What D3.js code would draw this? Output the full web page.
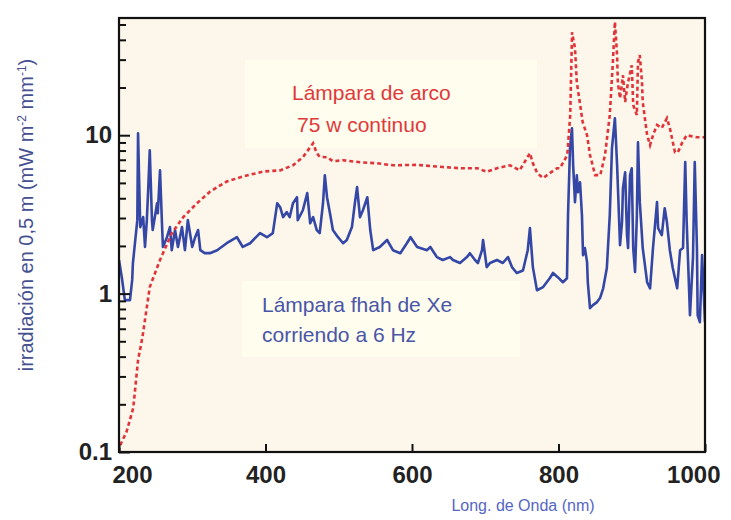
<!DOCTYPE html>
<html><head><meta charset="utf-8">
<script src="https://cdn.jsdelivr.net/npm/d3@7"></script>
<style>body{margin:0;background:#fff}svg{display:block}</style>
</head><body>
<svg id="c" width="731" height="520"></svg>
<script>
// ---- data ----
const arcWavelength = [200,201.5,210.5,219.5,226,232,242,256,272,288,306,324,347,370,397,420,437.5,451,465,470,474,484,492,506,529,552,574,607,642,665,689,702,716,734,747,761,765,771,779,788,798,802,812,816,818.5,822.5,825,829,833,839,843,850,857,863.5,870,874,877,880,881,884,886,888,891,893,895,900,902,907,908.5,911,914,915,921,925,929,934.5,941,948,952,959,963,969,975,989,996,1000];
const arcIrradiance = [0.1,0.11,0.135,0.19,0.38,0.53,1.1,1.63,2.4,3.05,3.7,4.4,5.1,5.5,5.9,6.0,6.46,7.26,8.9,7.7,7.3,7.26,6.85,6.95,6.75,6.65,6.46,6.5,6.3,6.19,6.19,5.87,6.19,6.46,6.0,7.7,6.65,5.76,5.36,5.76,6.19,6.19,7.5,13.4,44.7,35.4,21.6,16.2,12.1,10,7.5,5.6,5.6,7.5,13.4,27.6,52,32,21.6,17.1,20,23.9,16.2,19,21.6,27.6,15.5,13.4,28.9,32,21.6,16.2,10,8.65,10,11.6,11.1,12.8,11.1,7.8,7.8,9.0,10,9.7,9.7,9.7];

const xeWavelength = [200,204,208,215,218,219,225,226,229,233,235.5,238,240,242,245,246,252,253,256,259,260,265.5,269.6,272,276.5,280.5,286,290,294,300,304,308,311,317,324,334,347,361,369,379,392.5,402,410,416,420,424,429,433,437.5,443,444,451,457,461,465,470,474,478.5,481,484,488,492,499,506,511,518,522,525,529,533,539,543,547,556,566,574,584,593,598,607,620.5,625,634,642,652,656,665.5,675,679,686,690,695.6,697,702,706.5,716,724,731,736.5,743,751.5,758,761,765,770.6,779,788,792.5,799,806,811.6,813,815.7,818.4,820,822.5,825,826.6,829.4,832,833.5,836,839,840,843,847,852.6,856.7,861,866,870,873,877,880,884,886.7,888,891,893.5,895,897.6,900,902,904.5,907,908.5,911,915,921,925,929,934.5,936,941,945,948,952,956,962,966,970,973,975,979.5,983.6,986,989,990,993,996,1000];
const xeIrradiance = [1.63,1.25,0.91,0.91,1.22,1.56,2.91,10.3,2.63,3.04,1.97,2.91,4.7,8.04,2.91,2.52,3.72,3.22,6.01,2.52,1.97,2.27,2.63,1.88,2.52,1.97,2.63,1.88,2.91,1.97,2.27,2.52,1.88,1.8,1.8,1.88,2.08,2.27,1.97,2.08,2.41,2.27,2.41,3.72,3.51,3.04,3.27,3.04,3.72,4.06,2.91,3.36,4.31,2.78,3.04,2.52,2.41,3.72,5.59,4.06,3.22,2.52,2.27,2.08,2.18,2.63,3.72,4.7,3.04,3.36,4.06,2.52,1.88,1.97,2.18,1.88,1.8,2.08,2.27,1.97,1.88,1.97,1.7,1.63,1.7,1.63,1.56,1.7,1.8,1.63,1.56,1.88,2.18,1.47,1.56,1.63,1.56,1.7,1.47,1.35,1.4,1.88,2.59,1.47,1.05,1.1,1.25,1.35,1.27,1.18,1.25,3.13,8.28,11.07,6.47,3.78,5.59,4.37,5.05,3.13,1.75,1.94,1.58,1.18,0.81,0.846,0.884,0.937,1.08,1.45,3.13,8.28,12.8,6.47,2.02,2.83,4.63,5.84,2.34,1.94,5.59,6.19,1.94,1.37,3.13,9.03,3.78,1.94,1.18,1.08,1.94,3.78,2.59,2.34,3.46,2.83,1.88,1.45,1.08,1.88,1.94,6.76,2.83,0.73,1.7,6.76,1.94,0.73,0.66,1.75,0.66];

const xTicks = [200,400,600,800,1000];
const xTickLabels = ["200","400","600","800","1000"];
const yTicks = [0.1,1,10];
const yTickLabels = ["0.1","1","10"];
const yMinorTicks = [0.2,0.3,0.4,0.5,0.6,0.7,0.8,0.9,2,3,4,5,6,7,8,9,20,30,40,50];
const arcLabel = ["Lámpara de arco","75 w continuo"];
const xeLabel = ["Lámpara fhah de Xe","corriendo a 6 Hz"];
const xTitle = "Long. de Onda (nm)";

// ---- layout ----
const L=119, R=705, T=18, B=452;
const svg = d3.select("#c");
const x = d3.scaleLinear().domain([200,1000]).range([L,R]);
const y = d3.scaleLog().domain([0.1, Math.pow(10,1.74)]).range([B,T]);

svg.append("rect").attr("x",L).attr("y",T).attr("width",R-L).attr("height",B-T).attr("fill","#fcf7ea");

// legend boxes
svg.append("rect").attr("x",245).attr("y",60).attr("width",292).attr("height",88).attr("fill","#fffdee");
svg.append("rect").attr("x",242).attr("y",281).attr("width",278).attr("height",76).attr("fill","#fffdee");

svg.append("defs").append("clipPath").attr("id","pc").append("rect")
  .attr("x",L).attr("y",T).attr("width",R-L).attr("height",B-T);

const arcData = arcWavelength.map((w,i)=>[w,arcIrradiance[i]]);
const xeData = xeWavelength.map((w,i)=>[w,xeIrradiance[i]]);
const line = d3.line().x(d=>x(d[0])).y(d=>y(d[1]));

const g = svg.append("g").attr("clip-path","url(#pc)");
g.append("path").datum(xeData).attr("d",line).attr("fill","none")
  .attr("stroke","#3447a6").attr("stroke-width",2.6).attr("stroke-linejoin","round");
g.append("path").datum(arcData).attr("d",line).attr("fill","none")
  .attr("stroke","#e0343a").attr("stroke-width",2.6).attr("stroke-dasharray","4,3");

// axes
const tickFont = "'Liberation Sans',Arial,sans-serif";
const xAxis = svg.append("g").attr("transform",`translate(0,${B})`)
  .call(d3.axisBottom(x).tickValues(xTicks).tickSize(-8).tickPadding(14)
    .tickFormat((d,i)=>xTickLabels[i]));
xAxis.select(".domain").remove();
xAxis.selectAll("line").attr("stroke","#111").attr("stroke-width",2);
xAxis.selectAll("text").attr("font-family",tickFont).attr("font-weight","bold")
  .attr("font-size",24).attr("fill","#222").attr("dy","0.71em")
  .attr("text-anchor",(d,i)=>i===0?"start":(i===xTicks.length-1?"end":"middle"))
  .attr("dx",(d,i)=>i===0?-7:(i===xTicks.length-1?15:0));

const yAxis = svg.append("g").attr("transform",`translate(${L},0)`)
  .call(d3.axisLeft(y).tickValues(yTicks).tickSize(-11).tickPadding(7)
    .tickFormat((d,i)=>yTickLabels[i]));
yAxis.select(".domain").remove();
yAxis.selectAll("line").attr("stroke","#111").attr("stroke-width",2);
yAxis.selectAll("text").attr("font-family",tickFont).attr("font-weight","bold")
  .attr("font-size",24).attr("fill","#222");

const yMinor = svg.append("g").attr("transform",`translate(${L},0)`)
  .call(d3.axisLeft(y).tickValues(yMinorTicks).tickSize(-7).tickFormat(""));
yMinor.select(".domain").remove();
yMinor.selectAll("line").attr("stroke","#111").attr("stroke-width",2);

// frame
svg.append("rect").attr("x",L).attr("y",T).attr("width",R-L).attr("height",B-T)
  .attr("fill","none").attr("stroke","#111").attr("stroke-width",2.2);

// annotations
const txtFont = "'Liberation Sans',Arial,sans-serif";
svg.append("text").attr("font-family",txtFont).attr("font-size",21).attr("fill","#e0393a")
  .selectAll("tspan").data(arcLabel).join("tspan")
  .attr("x",(d,i)=>i===0?292:297).attr("y",(d,i)=>100+i*32).text(d=>d);
svg.append("text").attr("font-family",txtFont).attr("font-size",21).attr("fill","#4a55a8")
  .selectAll("tspan").data(xeLabel).join("tspan")
  .attr("x",262).attr("y",(d,i)=>312+i*30).text(d=>d);

// axis titles
svg.append("text").attr("x",523).attr("y",511).attr("text-anchor","middle")
  .attr("font-family",txtFont).attr("font-size",16).attr("fill","#5566c4").text(xTitle);

const yt = svg.append("text").attr("transform","translate(33,215) rotate(-90)")
  .attr("text-anchor","middle").attr("font-family",txtFont).attr("font-size",20).attr("fill","#44508f");
yt.append("tspan").text("irradiación en 0,5 m (mW m");
yt.append("tspan").attr("font-size",12).attr("dy",-7).text("-2");
yt.append("tspan").attr("dy",7).text(" mm");
yt.append("tspan").attr("font-size",12).attr("dy",-7).text("-1");
yt.append("tspan").attr("dy",7).text(")");
</script>
</body></html>
